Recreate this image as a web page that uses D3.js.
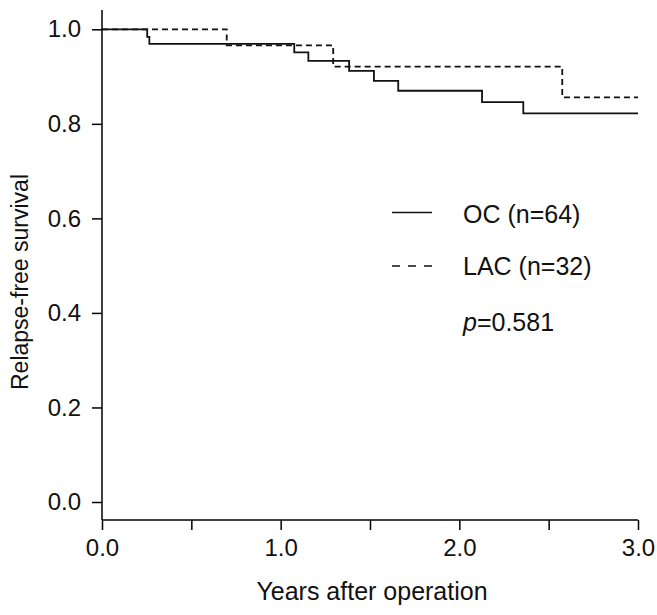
<!DOCTYPE html>
<html>
<head>
<meta charset="utf-8">
<script src="https://cdn.jsdelivr.net/npm/d3@7"></script>
<style>
html,body{margin:0;padding:0;background:#fff;}
svg{display:block;font-family:"Liberation Sans",Arial,sans-serif;}
</style>
</head>
<body>
<svg id="chart" width="657" height="615"></svg>
<script>
// Data
const ocTimes  = [0, 0.253, 0.265, 1.076, 1.155, 1.383, 1.522, 1.658, 2.127, 2.358, 3.0];
const ocSurv   = [1.0, 0.984, 0.969, 0.951, 0.933, 0.912, 0.891, 0.870, 0.846, 0.822, 0.822];
const lacTimes = [0, 0.698, 1.294, 2.576, 3.0];
const lacSurv  = [1.0, 0.966, 0.921, 0.856, 0.856];
const xTicks = [0, 0.5, 1, 1.5, 2, 2.5, 3];
const xTickLabels = ["0.0", "", "1.0", "", "2.0", "", "3.0"];
const yTicks = [0, 0.2, 0.4, 0.6, 0.8, 1.0];
const yTickLabels = ["0.0", "0.2", "0.4", "0.6", "0.8", "1.0"];
const legendLabels = ["OC (n=64)", "LAC (n=32)"];
const pValue = "0.581";

const svg = d3.select("#chart");
const x = d3.scaleLinear().domain([0, 3]).range([102, 638]);
const y = d3.scaleLinear().domain([0, 1]).range([502, 29.3]);
const axisY0 = 520;

// axes
const xAxis = d3.axisBottom(x).tickValues(xTicks).tickSize(10).tickSizeOuter(0)
  .tickFormat((d, i) => xTickLabels[i]);
const gx = svg.append("g").attr("transform", `translate(0,${axisY0})`).call(xAxis);
gx.select(".domain").remove();
gx.append("line").attr("x1", 102).attr("x2", 638).attr("stroke", "#000").attr("stroke-width", 1.5);
gx.selectAll(".tick line").attr("stroke", "#000").attr("stroke-width", 1.5);
gx.selectAll(".tick text").attr("font-size", 24).attr("fill", "#111").attr("dy", "0.96em")
  .attr("font-family", "Liberation Sans, Arial, sans-serif");

const yAxis = d3.axisLeft(y).tickValues(yTicks).tickSize(10).tickSizeOuter(0)
  .tickFormat((d, i) => yTickLabels[i]);
const gy = svg.append("g").attr("transform", `translate(102,0)`).call(yAxis);
gy.select(".domain").remove();
gy.append("line").attr("y1", 10).attr("y2", axisY0).attr("stroke", "#000").attr("stroke-width", 1.5);
gy.selectAll(".tick line").attr("stroke", "#000").attr("stroke-width", 1.5);
gy.selectAll(".tick text").attr("font-size", 24).attr("fill", "#111").attr("x", -21)
  .attr("font-family", "Liberation Sans, Arial, sans-serif");

// curves
const line = d3.line().x(d => x(d[0])).y(d => y(d[1])).curve(d3.curveStepAfter);
svg.append("path").datum(ocTimes.map((t, i) => [t, ocSurv[i]]))
  .attr("d", line).attr("fill", "none").attr("stroke", "#111").attr("stroke-width", 1.8);
svg.append("path").datum(lacTimes.map((t, i) => [t, lacSurv[i]]))
  .attr("d", line).attr("fill", "none").attr("stroke", "#111").attr("stroke-width", 1.8)
  .attr("stroke-dasharray", "6,4");

// legend
svg.append("line").attr("x1", 392).attr("x2", 432).attr("y1", 212.5).attr("y2", 212.5)
  .attr("stroke", "#111").attr("stroke-width", 1.5);
svg.append("line").attr("x1", 392).attr("x2", 432).attr("y1", 266).attr("y2", 266)
  .attr("stroke", "#111").attr("stroke-width", 1.5).attr("stroke-dasharray", "8,8");
svg.append("text").attr("x", 463).attr("y", 222.5).attr("font-size", 25).attr("fill", "#111")
  .text(legendLabels[0]);
svg.append("text").attr("x", 463).attr("y", 275).attr("font-size", 25).attr("fill", "#111")
  .text(legendLabels[1]);
const pt = svg.append("text").attr("x", 463).attr("y", 331).attr("font-size", 25).attr("fill", "#111");
pt.append("tspan").attr("font-style", "italic").text("p");
pt.append("tspan").text("=" + pValue);

// axis titles
svg.append("text").attr("x", 372).attr("y", 600).attr("text-anchor", "middle")
  .attr("font-size", 25).attr("fill", "#111").text("Years after operation");
svg.append("text").attr("transform", "translate(28,282) rotate(-90)").attr("text-anchor", "middle")
  .attr("font-size", 23).attr("fill", "#111").text("Relapse-free survival");
</script>
</body>
</html>
